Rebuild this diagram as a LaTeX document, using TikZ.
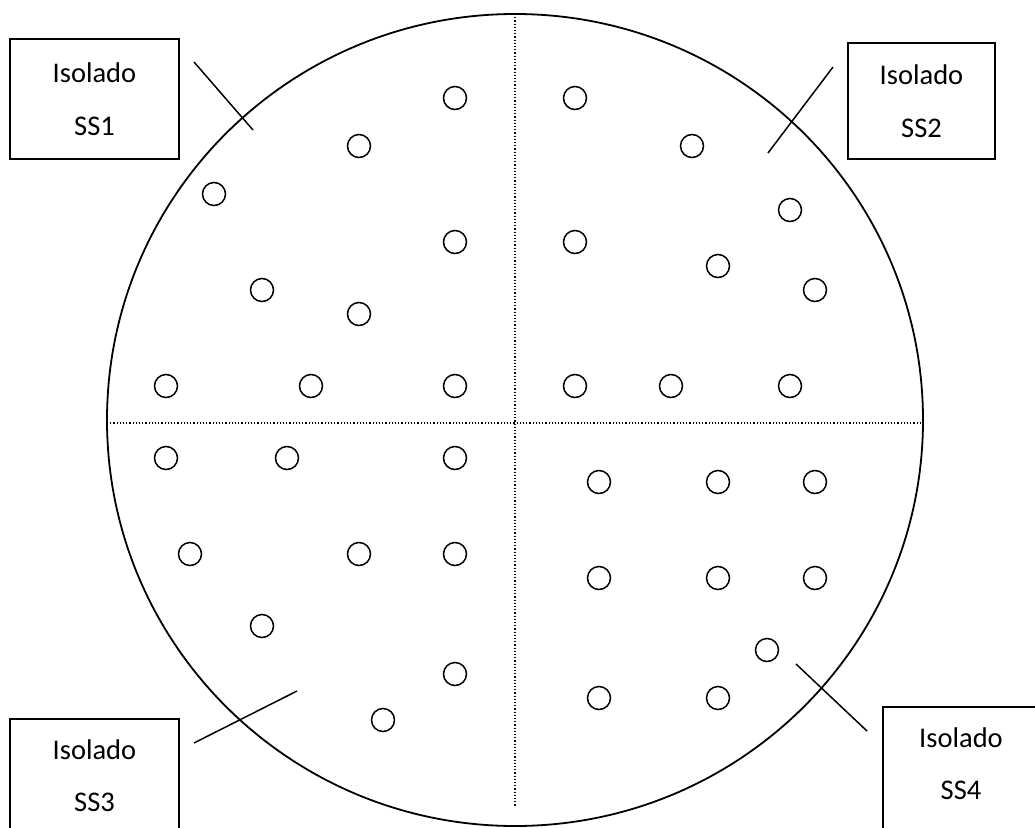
\documentclass[tikz,border=0pt]{standalone}
\usepackage{fontspec}
\setmainfont{Carlito}
\usepackage{tikz}
\usetikzlibrary{shapes.geometric}

\begin{document}
\begin{tikzpicture}[
			x=1pt, y=-1pt,
			% Define the style for the nodes
			cell/.style={circle, draw, line width=1.5pt, minimum size=23pt, inner sep=0pt},
			isobox/.style={rectangle, draw, line width=1.5pt, inner sep=0pt, align=center,
				font=\fontsize{28.5}{53}\selectfont},
			isotext/.style={font=\fontsize{28.5}{28.5}\selectfont}
			]
			\useasboundingbox (0,0) rectangle (1035,827);
			\clip (0,0) rectangle (1035,827);

			\node (plate) at (515,420) [ellipse, draw, line width=1.8pt, minimum width=816pt, minimum height=812pt] {};

			\draw[dotted, line width=1.2pt] (515,14)--(515,806);
			\draw[dotted, line width=1.2pt] (107,423)--(923,423);

			\node (b1) at (94.5,99) [isobox, minimum width=169pt, minimum height=120pt] {Isolado\\SS1};
			\node (b2) at (921.5,101) [isobox, minimum width=147pt, minimum height=116pt] {Isolado\\SS2};
			\node (b3) at (94.5,776) [isobox, minimum width=169pt, minimum height=114pt] {};
			\node (t3a) at (94.5,750) [isotext] {Isolado};
			\node (t3b) at (94.5,802) [isotext] {SS3};
			\node (b4) at (963,770) [isobox, minimum width=160pt, minimum height=126pt] {};
			\node (t4a) at (961,738) [isotext] {Isolado};
			\node (t4b) at (961,790) [isotext] {SS4};

			\coordinate (m1a) at (194,62);  \coordinate (m1b) at (253,130);
			\coordinate (m2a) at (833,67);  \coordinate (m2b) at (768,153);
			\coordinate (m3a) at (194,743); \coordinate (m3b) at (297,691);
			\coordinate (m4a) at (796,664); \coordinate (m4b) at (867,731);

			\draw[line width=1.5pt] (m1a)--(m1b);
			\draw[line width=1.5pt] (m2a)--(m2b);
			\draw[line width=1.5pt] (m3a)--(m3b);
			\draw[line width=1.5pt] (m4a)--(m4b);

			\foreach \px/\py [count=\i] in {455/98, 359/146, 214/194, 455/242, 262/290, 359/314, 166/386, 311/386, 455/386,
				575/98, 692/146, 790/210, 575/242, 718/266, 815/290, 575/386, 671/386, 790/386,
				166/458, 287/458, 455/458, 190/554, 359/554, 455/554, 262/626, 455/674, 383/720,
				599/482, 718/482, 815/482, 599/578, 718/578, 815/578, 767/650, 599/698, 718/698}
				\node (c\i) at (\px,\py) [cell] {};

		\end{tikzpicture}
\end{document}
